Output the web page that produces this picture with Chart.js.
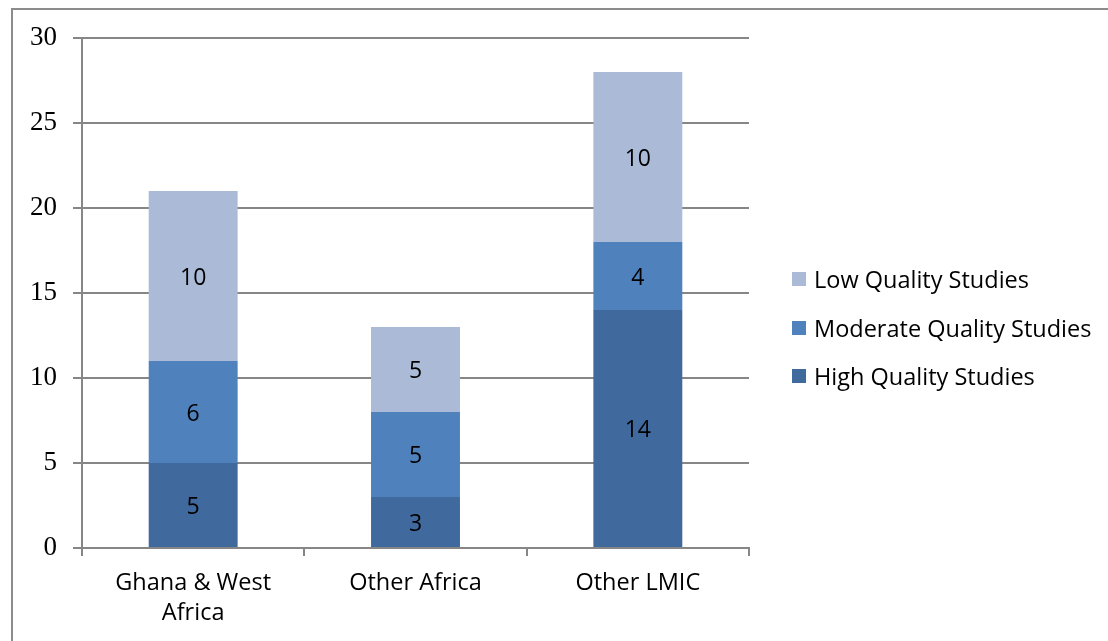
<!DOCTYPE html>
<html>
<head>
<meta charset="utf-8">
<script src="https://cdn.jsdelivr.net/npm/chart.js@4/dist/chart.umd.min.js"></script>
<style>
  html, body { margin: 0; padding: 0; background: #fff; }
  #wrap { position: absolute; left: 0; top: 0; width: 1108px; height: 641px; }
  #frame { position: absolute; left: 11px; top: 8px; width: 1097px; height: 633px;
           border-top: 2px solid #8c8c8c; border-left: 2px solid #8c8c8c; box-sizing: border-box; }
  #legend { position: absolute; left: 792px; top: 263px; font-family: "Open Sans", sans-serif;
            font-size: 23.5px; color: #000; }
  .item { position: absolute; left: 0; white-space: nowrap; height: 32px; line-height: 32px; }
  .sw { position: absolute; left: 0; top: 9px; width: 14px; height: 14px; }
  .lt { position: absolute; left: 22px; top: 0; }
</style>
</head>
<body>
<div id="wrap">
  <div id="frame"></div>
  <canvas id="c" width="1108" height="641"></canvas>
  <div id="legend"></div>
</div>
<script>
const categories = [["Ghana & West", "Africa"], "Other Africa", "Other LMIC"];
const seriesNames = ["High Quality Studies", "Moderate Quality Studies", "Low Quality Studies"];
const highQuality = [5, 3, 14];
const moderateQuality = [6, 5, 4];
const lowQuality = [10, 5, 10];
const yTicks = [0, 5, 10, 15, 20, 25, 30];
const colors = ["#40699E", "#4F81BD", "#AABAD7"];

const seriesValues = [highQuality, moderateQuality, lowQuality];
const gridColor = "#868686";

const dataLabels = {
  id: "dataLabels",
  afterDatasetsDraw(chart) {
    const ctx = chart.ctx;
    ctx.save();
    ctx.font = '23px "Open Sans", sans-serif';
    ctx.fillStyle = "#000";
    ctx.textAlign = "center";
    ctx.textBaseline = "middle";
    chart.data.datasets.forEach((ds, di) => {
      const meta = chart.getDatasetMeta(di);
      meta.data.forEach((el, i) => {
        const v = ds.data[i];
        const cy = (el.y + el.base) / 2;
        ctx.fillText(String(v), el.x, cy + 2);
      });
    });
    ctx.restore();
  }
};

new Chart(document.getElementById("c"), {
  type: "bar",
  data: {
    labels: categories,
    datasets: seriesNames.map((n, i) => ({
      label: n,
      data: seriesValues[i],
      backgroundColor: colors[i],
      borderWidth: 0,
      categoryPercentage: 1.0,
      barPercentage: 0.4
    }))
  },
  options: {
    responsive: false,
    animation: false,
    devicePixelRatio: 1,
    layout: { padding: { top: 38, right: 359, left: 0, bottom: 0 } },
    plugins: { legend: { display: false }, tooltip: { enabled: false } },
    scales: {
      x: {
        stacked: true,
        offset: true,
        grid: { display: true, drawOnChartArea: false, offset: true, color: gridColor, lineWidth: 2, tickLength: 8 },
        border: { display: true, color: gridColor, width: 2 },
        ticks: { color: "#000", font: { family: "Open Sans", size: 23.5, lineHeight: 1.28 }, padding: 12, maxRotation: 0, autoSkip: false },
        afterFit(scale) { scale.height = 93; }
      },
      y: {
        stacked: true,
        min: 0, max: 30,
        afterBuildTicks(scale) { scale.ticks = yTicks.map(v => ({ value: v })); },
        grid: { color: gridColor, lineWidth: 2, tickLength: 9 },
        border: { display: true, color: gridColor, width: 2 },
        ticks: { color: "#000", font: { family: "Liberation Serif", size: 27 }, padding: 16 },
        afterFit(scale) { scale.width = 82; }
      }
    }
  },
  plugins: [dataLabels]
});

// HTML legend (reversed order, as in reference)
const legend = document.getElementById("legend");
[2, 1, 0].forEach((si, k) => {
  const it = document.createElement("div");
  it.className = "item";
  it.style.top = (k * 48.5) + "px";
  const sw = document.createElement("span");
  sw.className = "sw";
  sw.style.background = colors[si];
  const t = document.createElement("span");
  t.className = "lt";
  t.textContent = seriesNames[si];
  it.appendChild(sw); it.appendChild(t);
  legend.appendChild(it);
});
</script>
</body>
</html>
